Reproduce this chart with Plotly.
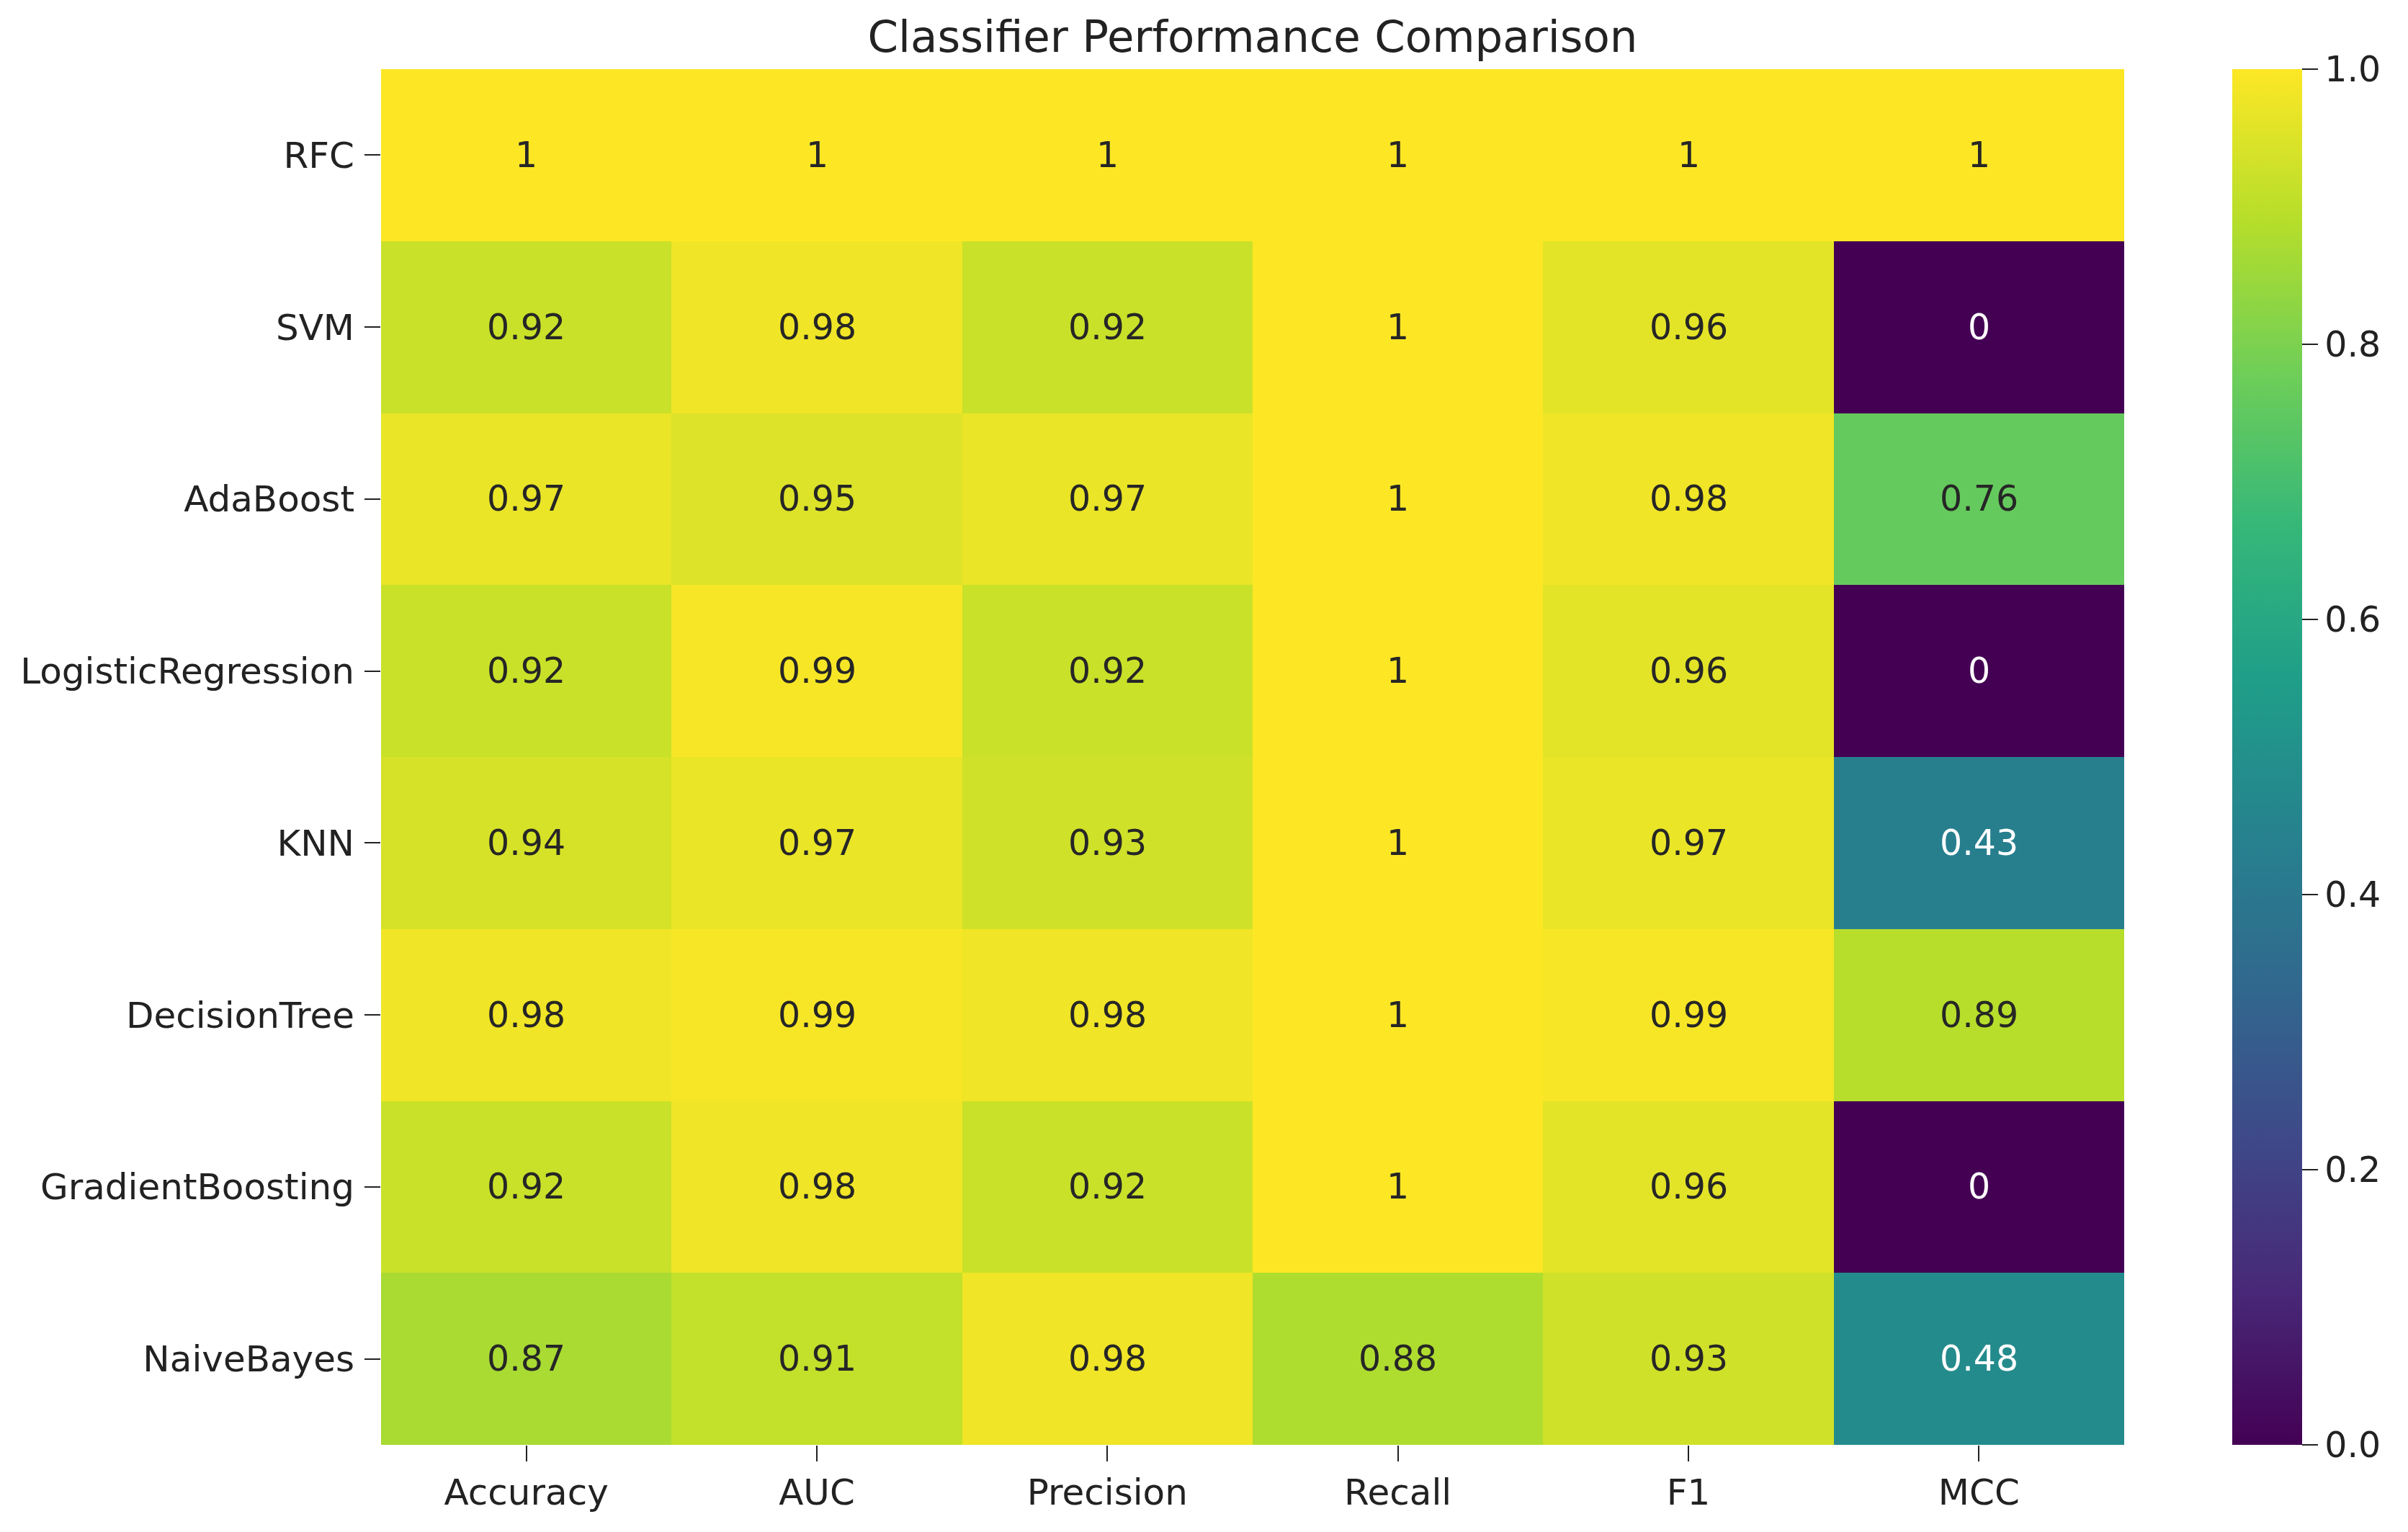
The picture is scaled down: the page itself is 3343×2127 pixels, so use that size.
import plotly.graph_objects as go

classifiers = ["RFC", "SVM", "AdaBoost", "LogisticRegression", "KNN",
               "DecisionTree", "GradientBoosting", "NaiveBayes"]
metrics = ["Accuracy", "AUC", "Precision", "Recall", "F1", "MCC"]

accuracy = [1, 0.92, 0.97, 0.92, 0.94, 0.98, 0.92, 0.87]
auc = [1, 0.98, 0.95, 0.99, 0.97, 0.99, 0.98, 0.91]
precision = [1, 0.92, 0.97, 0.92, 0.93, 0.98, 0.92, 0.98]
recall = [1, 1, 1, 1, 1, 1, 1, 0.88]
f1 = [1, 0.96, 0.98, 0.96, 0.97, 0.99, 0.96, 0.93]
mcc = [1, 0, 0.76, 0, 0.43, 0.89, 0, 0.48]

cbar_ticks = [0.0, 0.2, 0.4, 0.6, 0.8, 1.0]

columns = [accuracy, auc, precision, recall, f1, mcc]
z = [[columns[j][i] for j in range(len(metrics))] for i in range(len(classifiers))]

FONT = "DejaVu Sans"
W, H = 3343, 2127
OFF = 8  # page body margin
L, R, T, B = 529 - OFF, 394 + OFF, 96 - OFF, 121 + OFF
plot_w = W - L - R

fig = go.Figure(go.Heatmap(
    z=z, x=metrics, y=classifiers,
    colorscale="Viridis", zmin=0, zmax=1,
    hoverongaps=False,
    colorbar=dict(
        x=(3099 - OFF - L) / plot_w, xanchor="left", xpad=0,
        y=0.5, yanchor="middle", len=1, lenmode="fraction", ypad=0,
        thickness=97, thicknessmode="pixels",
        outlinewidth=0,
        tickvals=cbar_ticks, ticktext=[f"{t:.1f}" for t in cbar_ticks],
        ticks="outside", ticklen=22, tickwidth=2, tickcolor="#222",
        tickfont=dict(family=FONT, size=49, color="#222"),
    ),
))

annotations = []
for i, c in enumerate(classifiers):
    for j, m in enumerate(metrics):
        v = z[i][j]
        color = "white" if v < 0.6 else "#262626"
        annotations.append(dict(
            x=m, y=c, xref="x", yref="y", text=f"{v:.2g}",
            showarrow=False, font=dict(family=FONT, size=49, color=color),
        ))

fig.update_layout(
    width=W, height=H,
    margin=dict(l=L, r=R, t=T, b=B, pad=0),
    paper_bgcolor="white", plot_bgcolor="white",
    title=dict(text="Classifier Performance Comparison", x=(L + plot_w / 2) / W,
               xanchor="center", y=1 - (51 - OFF) / H, yanchor="middle",
               font=dict(family=FONT, size=61, color="#222")),
    annotations=annotations,
    xaxis=dict(showgrid=False, zeroline=False, showline=False,
               ticks="outside", ticklen=22, tickwidth=2, tickcolor="#222",
               tickfont=dict(family=FONT, size=50, color="#222")),
    yaxis=dict(showgrid=False, zeroline=False, showline=False, autorange="reversed",
               ticks="outside", ticklen=22, tickwidth=2, tickcolor="#222",
               ticklabelstandoff=4,
               tickfont=dict(family=FONT, size=50, color="#222")),
)

fig.write_html("out.html")
